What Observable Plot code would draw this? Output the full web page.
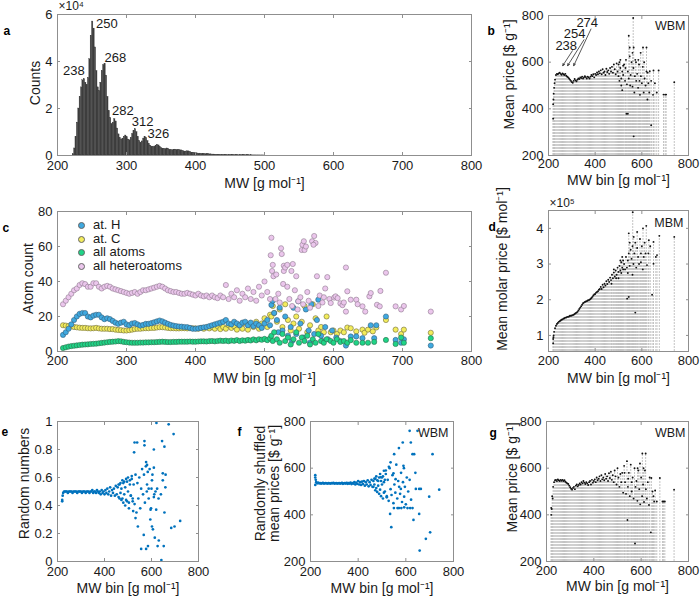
<!DOCTYPE html>
<html><head><meta charset="utf-8">
<script src="https://cdn.jsdelivr.net/npm/d3@7"></script>
<script src="https://cdn.jsdelivr.net/npm/@observablehq/plot@0.6"></script>
<style>
body{margin:0;background:#fff;}
#root{position:relative;width:700px;height:598px;overflow:hidden;font-family:"Liberation Sans",Arial,Helvetica,sans-serif;}
.pan{position:absolute;}
.pan svg{overflow:visible;background:none;}
.leg{position:absolute;font-size:13px;color:#1a1a1a;line-height:13.7px;}
.leg div{position:relative;height:13.7px;white-space:nowrap;padding-left:19px;}
.leg span{position:absolute;left:4px;top:4px;width:5px;height:5px;border-radius:50%;border:0.6px solid #666;}
</style></head><body><div id="root"></div>
<script>
// ---------- DATA ----------
// a: histogram of MW (bin width 2), counts in units of 1e4
const histMW = [222,224,226,228,230,232,234,236,238,240,242,244,246,248,250,252,254,256,258,260,262,264,266,268,270,272,274,276,278,280,282,284,286,288,290,292,294,296,298,300,302,304,306,308,310,312,314,316,318,320,322,324,326,328,330,332,334,336,338,340,342,344,346,348,350,352,354,356,358,360,362,364,366,368,370,372,374,376,378,380,382,384,386,388,390,392,394,396,398,400,402,404,406,408,410,412,414,416,418,420,422,424,426,428,430,432,434,436,438,440,442,444,446,448,450,452,454,456,458,460,462,464,466,468,470,472,474,476,478,480,482,484,486,488,490,492,494,496,498];
const histCount = [0.05,0.3,0.8,1.4,2.0,2.5,2.9,3.2,3.25,3.1,
3.0,3.3,4.1,5.1,5.7,5.4,4.6,3.6,2.9,2.75,
3.1,3.6,3.85,3.9,3.4,2.5,1.9,1.6,1.35,1.4,
1.55,1.45,1.15,0.9,0.75,0.68,0.72,0.8,0.85,0.78,
0.68,0.65,0.75,0.92,1.05,1.12,1.0,0.8,0.62,0.55,
0.6,0.72,0.8,0.75,0.62,0.5,0.42,0.38,0.36,0.38,
0.42,0.45,0.43,0.36,0.31,0.28,0.27,0.28,0.3,0.28,
0.25,0.22,0.22,0.24,0.25,0.24,0.22,0.22,0.22,0.2,
0.18,0.16,0.17,0.18,0.17,0.14,0.12,0.12,0.11,0.1,
0.09,0.08,0.08,0.07,0.07,0.06,0.06,0.05,0.05,0.05,
0.045,0.04,0.04,0.035,0.035,0.03,0.03,0.03,0.028,0.025,
0.025,0.022,0.02,0.02,0.018,0.017,0.016,0.015,0.014,0.013,
0.012,0.011,0.01,0.01,0.009,0.009,0.008,0.008,0.007,0.007,
0.006,0.006,0.005,0.005,0.005,0.004,0.004,0.004,0.003];
const peakMW = [238,250,268,282,312,326];
const peakCount = [3.25,5.7,3.9,1.55,1.12,0.8];

// dense MW bins shared by b, d, e, f, g
const binsW = [220,224,228,232,236,240,244,248,252,256,260,264,268,272,276,280,284,288,292,296,300,304,308,312,316,320,324,328,332,336,340,344,348,352,356,360,364,368,372,376,380,384,388,392,396,400,404,408,412,416,420,424,428,432,436,440,444,448,452,456,460,464,468,472,476,480,484,488,492,496,500,504,508,512,516,520];

// b: WBM mean price
const bDense = [420,490,525,545,550,548,552,555,550,546,
552,548,545,550,542,538,535,530,525,520,
515,512,520,528,522,518,525,530,528,535,
532,538,530,535,540,536,530,538,535,530,
538,545,540,548,535,550,545,556,548,560,
552,565,548,570,555,560,545,572,558,565,
550,575,560,580,555,590,570,548,595,560,
540,600,575,530,560,585];
const bScatter = [[220,358],[221,440],[222,465],[226,510],[512,500],[516,480],[524,590],[528,520],[532,610],[536,505],[540,560],[544,530],[548,625],[552,545],[556,600],[560,495],[564,575],[568,470],[572,610],[576,520],[580,550],[584,490],[588,590],[592,460],[596,540],[600,510],[604,580],[608,470],[612,530],[616,500],[620,560],[624,440],[628,510],[632,470],[640,520],[648,460],[656,510],[664,470],[672,564],[650,564],[634,561],[544,713],[563,789],[548,663],[565,663],[605,663],[620,663],[565,282],[640,330],[534,379],[540,379],[739,514],[693,461],[700,461],[704,461],[585,610],[595,640],[560,640],[575,600],[500,590],[504,520],[508,610],[520,545],[530,575],[550,500],[570,540],[590,520],[610,600],[625,555]];
const bArrowLabels = ["238","254","274"];
const bArrowFrom = [[302.7,649],[352,696],[382,742]];
const bArrowTo = [[261,585],[282,585],[308,585]];
const bArrowLabelAt = [[276,672],[312,722],[366,769]];

// c: atom counts
const binsC = [208,212,216,220,224,228,232,236,240,244,248,252,256,260,264,268,272,276,280,284,288,292,296,300,304,308,312,316,320,324,328,332,336,340,344,348,352,356,360,364,368,372,376,380,384,388,392,396,400,404,408,412,416,420,424,428,432,436,440,444,448,452,456,460,464,468,472,476,480,484,488,492,496,500,504,508];
const seriesNames = ["at. H","at. C","all atoms","all heteroatoms"];
const seriesFill = ["#3fa9e0","#f3ec5c","#1fd487","#ebc6ec"];
const hDense = [9.5,11,13,15.5,18,20,21.5,22,22,20,
19.5,20.5,21,21,19.5,18.5,19,18.5,17.5,16.5,
15.8,16.5,17,15.5,15,16,16.3,15.5,14.8,15.2,
15.8,15.8,16.2,16.7,17.2,17.7,17.2,16.5,15.8,15.2,
14.8,14.5,14.3,14.2,14,13.9,13.5,13,13,13.2,
13.5,13.8,14,14.5,15,15.5,16,16.5,17,18,
16,15.5,17,16,15,16.5,17,15,16.5,14.5,
16,15,13.5,16,18,15];
const cDense = [15,14.8,14.5,14.3,14,13.8,13.6,13.5,13.5,13.3,
13.2,13.3,13.5,13.2,13,13,13,12.8,12.8,12.5,
12.3,12.2,12,12,12.2,12.5,12.8,13,13,13.2,
13.3,13.3,13.5,13.5,13.7,13.9,13.9,13.7,13.5,13.3,
13.3,13.2,13.2,13.3,13.3,13.2,13.3,13.3,13.2,13,
13.5,13,13.8,13.2,14,13,14.5,12.8,14,13,
15,13.5,14.5,12.5,15,13,16,12.5,15.5,14,
17,13,16,19,14,21];
const allDense = [2,2.4,2.8,3.1,3.3,3.5,3.7,3.9,4,4.1,
4.3,4.4,4.5,4.7,4.9,5.1,5.3,5.5,5.6,5.7,
5.9,5.8,5.5,5.3,5.1,5,5,5,5.1,5.1,
5.2,5.2,5.3,5.3,5.4,5.5,5.6,5.5,5.4,5.4,
5.5,5.5,5.6,5.6,5.6,5.6,5.7,5.6,5.6,5.7,
5.8,5.8,5.7,5.9,6,5.8,6,6.2,6,6.2,
5.9,6.3,6.1,6.5,6,6.4,6.2,6.6,6.3,6.9,
6.4,7,6.7,7.2,6.5,7.5];
const heteroDense = [27,29,31,33,35,36,38,39,38.5,37,
37,39,39,37,36,37,37.5,37,36,35.5,
35,34.5,34,33.5,33,33.5,34,33,34,35,
35,35.5,36,36.5,37,37.5,37,36,35,34.5,
34,34,33.5,33,33,33.5,33,32.5,32,33,
32,31.5,32,31,32,31,30.5,32,31,38,
30,33,31,35,29,33,31,36,30,34,
29,37,32,40,34,30];
const hScatter = [[510,26.6],[512,29],[514,22],[518,18],[522,25],[526,12],[530,20],[534,9],[538,14],[542,25],[546,10],[549,28.7],[552,16],[556,8],[560,24],[564,12],[568,27],[572,10],[576,18],[578,29.6],[582,9],[588,14],[592,7],[598,12],[604,8],[610,6],[618,3.4],[625,8.6],[633,8.6],[642,7.6],[654,15],[659,7.6],[662,15],[676,20],[690,6.6],[698,5],[702,7],[741,3.4],[520,11],[540,6],[566,5],[584,6]];
const cScatter = [[510,20],[512,26],[514,22],[518,17],[522,24],[526,14],[530,27],[534,18],[538,12],[542,16],[546,20],[550,13],[554,17],[558,26],[562,11],[566,15],[570,27],[574,19],[578,12],[582,14],[586,11],[590,20],[596,11],[600,12],[605,10],[610,12],[615,11],[620,13.7],[625,13.3],[633,11.5],[642,12.5],[645,10.7],[650,12.5],[657,11.5],[662,13.7],[676,18],[690,12.5],[698,10],[702,12.5],[741,10.7]];
const allScatter = [[510,9],[512,6],[514,11],[518,7],[522,5],[526,10],[530,6],[534,8],[538,4],[542,7],[546,11],[550,5],[554,8],[558,6],[562,9],[566,4],[570,7],[574,5],[578,10],[582,6],[586,5],[590,7],[596,6],[600,5],[605,7],[610,5.5],[615,6],[620,5],[625,6.5],[633,5],[642,5],[650,5],[659,5.5],[676,6.6],[690,4.3],[698,8],[702,5],[741,7.6]];
const heteroScatter = [[509,55],[510,65],[512,49.5],[511,46],[513,43],[517,44],[524,59],[525,55.7],[528,49],[528,46],[530,48],[533,49.5],[527,38.6],[533,37],[539,46],[541,50],[546,43],[549,28.7],[554,58],[555,61],[557,63],[558,58],[560,60],[569,63],[572,66],[574,62],[571,61],[576,43],[591,42.5],[520,33],[522,28],[536,30],[540,26],[544,35],[548,24],[552,31],[556,27],[562,34],[566,25],[580,32],[584,28],[588,36],[594,30],[596,27.7],[601,30.8],[603,31.5],[606,30.5],[610,27.5],[613,26.5],[615,28],[618,22.8],[618,48],[620,34.4],[625,29.6],[633,29.6],[635,27],[642,25.8],[646,22.8],[652,31.5],[654,33.4],[663,26.7],[667,25.8],[668,34.6],[676,45],[690,25.8],[698,24],[702,26],[741,22.8],[516,30],[564,29],[578,26],[586,31]];

// d: MBM mean molar price (units of 1e5)
const dDense = [0.9,1.1,1.2,1.27,1.32,1.35,1.38,1.4,1.42,1.44,
1.45,1.47,1.48,1.5,1.5,1.52,1.52,1.53,1.55,1.55,
1.56,1.57,1.58,1.6,1.62,1.64,1.66,1.7,1.74,1.78,
1.82,1.86,1.9,1.92,1.94,1.95,1.96,1.98,1.99,2.0,
2.02,2.05,2.08,2.12,2.15,2.16,2.2,2.22,2.24,2.28,
2.3,2.36,2.3,2.42,2.35,2.45,2.4,2.52,2.44,2.56,
2.5,2.62,2.55,2.7,2.6,2.76,2.65,2.82,2.7,2.9,
2.78,2.95,2.82,3.05,2.9,3.1];
const dScatter = [[220,0.78],[221,0.95],[222,1.0],[524,3.0],[528,2.85],[532,3.2],[536,2.9],[540,3.1],[544,3.3],[548,2.95],[552,3.4],[556,3.15],[560,3.5],[564,3.0],[568,3.3],[572,3.6],[576,2.9],[580,3.45],[584,3.2],[588,3.0],[592,3.7],[596,3.3],[600,3.5],[604,2.85],[608,3.2],[612,3.6],[616,3.3],[560,2.7],[548,3.6],[540,2.75],[580,3.9],[596,3.05],[628,3.3],[636,3.5],[561,4.45],[544,3.86],[565,3.76],[605,4.0],[619,4.07],[675,3.79],[739,3.76],[650,3.62],[630,3.67],[660,3.2],[665,3.25],[644,2.14],[572,1.64],[544,2.08],[537,2.03],[650,3.01],[622,2.97],[500,2.6],[508,3.1],[512,2.75],[516,3.2],[520,2.85],[470,2.45],[480,2.85],[490,2.6]];

// e: random numbers
const eDense = [0.44,0.49,0.5,0.5,0.5,0.5,0.49,0.5,0.5,0.5,
0.5,0.49,0.5,0.5,0.5,0.5,0.49,0.5,0.5,0.5,
0.5,0.49,0.5,0.5,0.5,0.49,0.5,0.5,0.5,0.49,
0.5,0.5,0.51,0.49,0.5,0.5,0.49,0.51,0.5,0.49,
0.5,0.48,0.51,0.49,0.5,0.48,0.51,0.49,0.52,0.48,
0.5,0.53,0.47,0.51,0.49,0.52,0.47,0.54,0.48,0.53,
0.46,0.55,0.49,0.52,0.45,0.56,0.48,0.53,0.44,0.57,
0.5,0.42,0.55,0.47,0.59,0.43];
const eScatter = [[220,0.43],[222,0.47],[621,0.99],[673,0.98],[694,0.91],[645,0.86],[655,0.82],[610,0.80],[528,0.85],[539,0.85],[570,0.86],[570,0.83],[526,0.78],[577,0.71],[581,0.69],[610,0.67],[648,0.63],[648,0.58],[659,0.53],[722,0.29],[698,0.25],[684,0.24],[655,0.35],[652,0.11],[631,0.15],[626,0.11],[585,0.11],[577,0.09],[556,0.09],[642,0.01],[542,0.25],[532,0.31],[522,0.36],[567,0.19],[602,0.25],[606,0.23],[614,0.17],[595,0.30],[598,0.38],[610,0.46],[617,0.50],[624,0.52],[588,0.52],[602,0.58],[581,0.55],[460,0.55],[464,0.45],[468,0.56],[472,0.44],[476,0.58],[480,0.42],[484,0.57],[488,0.4],[492,0.59],[496,0.43],[500,0.6],[504,0.38],[508,0.58],[512,0.47],[516,0.61],[520,0.45],[524,0.55],[528,0.41],[532,0.62],[536,0.35],[540,0.56],[544,0.45],[548,0.6],[552,0.38],[556,0.52],[560,0.66],[564,0.48],[568,0.62],[572,0.42],[576,0.68],[580,0.5],[584,0.64],[588,0.45],[592,0.66],[596,0.37],[600,0.52],[604,0.62],[612,0.48],[620,0.37],[630,0.45],[640,0.48],[660,0.62]];

// f: randomly shuffled mean prices
const fDense = [560,540,535,538,535,536,534,535,537,534,
535,536,535,534,536,535,534,536,535,537,
534,535,536,534,535,536,534,535,537,533,
535,536,534,537,533,536,534,538,532,536,
534,540,530,538,533,545,530,540,528,542,
532,545,525,540,530,548,522,540,528,550,
520,545,530,555,515,548,525,560,508,545,
530,565,495,550,575,480];
const fScatter = [[220,570],[220,528],[222,550],[616,760],[649,760],[587,710],[621,710],[551,660],[628,660],[635,660],[712,660],[571,686],[534,404],[539,347],[548,578],[557,553],[579,511],[593,478],[642,511],[656,511],[663,511],[740,508],[698,478],[684,297],[702,325],[658,247],[656,404],[632,378],[593,432],[581,429],[607,429],[618,429],[628,429],[550,429],[565,429],[571,429],[590,610],[536,625],[529,606],[508,589],[494,561],[464,520],[468,555],[472,505],[476,565],[480,498],[484,545],[488,490],[492,575],[496,480],[500,560],[504,470],[508,540],[512,500],[516,590],[520,475],[524,550],[528,460],[532,600],[536,510],[540,485],[544,570],[548,450],[552,530],[556,495],[560,615],[564,470],[568,545],[572,520],[576,490],[580,580],[584,455],[588,540],[592,600],[596,520],[600,445],[604,560],[610,500],[616,550],[622,465],[640,580]];

// g: WBM mean price (second variant)
const gDense = [430,480,520,540,548,550,545,552,548,545,
550,546,550,545,548,542,538,535,532,525,
518,512,508,515,520,510,525,530,522,528,
535,530,540,535,545,538,532,540,535,528,
540,545,530,550,538,545,552,540,560,548,
555,565,545,570,552,560,548,575,555,565,
545,578,558,585,550,570,540,590,565,530,
600,560,520,575,540,580];
const gScatter = [[220,400],[222,425],[226,470],[524,495],[528,610],[532,540],[536,490],[540,630],[542,378],[544,520],[548,580],[552,480],[556,615],[560,500],[564,560],[568,470],[572,600],[574,277],[576,520],[580,545],[584,460],[588,590],[592,510],[596,445],[600,560],[604,480],[605,663],[608,530],[612,455],[616,590],[619,663],[620,510],[624,470],[628,540],[633,442],[636,560],[641,325],[643,558],[648,500],[652,480],[655,457],[659,504],[666,457],[679,558],[690,457],[695,457],[700,457],[739,508],[530,580],[545,555],[560,540],[585,600],[595,620],[610,600]];

// tick values
const ticksMW100 = [200,300,400,500,600,700,800];
const ticksMW200 = [200,400,600,800];
const ticksCounts = [0,2,4,6];
const ticksPrice = [200,400,600,800];
const ticksAtoms = [0,20,40,60,80];
const ticksMolar = [1,2,3,4];
const ticksRandom = [0,0.2,0.4,0.6,0.8,1];

// ---------- DRAWING ----------
const root = document.getElementById("root");
const INK = "#1a1a1a", FRAME = "#8f8f8f";
const M = 70;
const fmt = d => String(d);
const table = (xs, ys) => xs.map((x, i) => ({x, y: ys[i]}));
const fromPairs = p => p.map(([x, y]) => ({x, y}));
const SVG_STYLE = "background:none;overflow:visible;font-family:'Liberation Sans',Arial,Helvetica,sans-serif;font-size:13px;color:#1a1a1a;";

function panel(box, xs, ys, marks, lab) {
  const [L, R, T, B] = box;
  const W = R - L + 2 * M, H = B - T + 2 * M;
  const svg = Plot.plot({
    width: W, height: H,
    marginLeft: M, marginRight: M, marginTop: M, marginBottom: M,
    x: {domain: xs.domain}, y: {domain: ys.domain},
    style: SVG_STYLE,
    marks: [
      ...marks,
      Plot.frame({stroke: FRAME}),
      Plot.axisX({ticks: xs.ticks, anchor: "bottom", tickSize: -3, tickPadding: lab.xpad, tickFormat: fmt, stroke: FRAME, fill: INK, fontSize: 13, label: null}),
      Plot.axisX({ticks: xs.ticks, anchor: "top", tickSize: -3, tickFormat: () => "", stroke: FRAME, label: null}),
      Plot.axisY({ticks: ys.ticks, anchor: "left", tickSize: -3, tickPadding: 8, tickFormat: fmt, stroke: FRAME, fill: INK, fontSize: 13, label: null}),
      Plot.axisY({ticks: ys.ticks, anchor: "right", tickSize: -3, tickFormat: () => "", stroke: FRAME, label: null}),
      Plot.text([lab.x], {frameAnchor: "bottom", dy: lab.xdy, textAnchor: "middle", lineAnchor: "middle", text: d => d, fill: INK, fontSize: 14}),
      Plot.text([lab.y], {frameAnchor: "left", dx: lab.ydx, dy: lab.ydy, rotate: -90, textAnchor: "middle", lineAnchor: "middle", text: d => d, fill: INK, fontSize: 14, lineHeight: 1.0}),
      Plot.text([lab.letter], {frameAnchor: "top-left", textAnchor: "start", lineAnchor: "middle", dx: lab.ldx, dy: lab.ldy, text: d => d, fill: "#000", fontSize: 12, fontWeight: "bold"}),
      ...(lab.tag ? [Plot.text([lab.tag], {frameAnchor: "top-right", textAnchor: "end", lineAnchor: "middle", dx: lab.tdx, dy: lab.tdy, text: d => d, fill: INK, fontSize: 12.5})] : []),
      ...(lab.exp ? [Plot.text([lab.exp], {frameAnchor: "top-left", textAnchor: "start", lineAnchor: "middle", dx: 1, dy: lab.edy, text: d => d, fill: INK, fontSize: 12})] : [])
    ]
  });
  const d = document.createElement("div");
  d.className = "pan";
  d.style.left = (L - M) + "px";
  d.style.top = (T - M) + "px";
  d.style.width = W + "px";
  d.appendChild(svg);
  root.appendChild(d);
}

const stem = (data, base) => Plot.ruleX(data, {x: "x", y1: base, y2: "y", stroke: "#c3c3c3", strokeWidth: 1, strokeDasharray: "2,1"});
const blackDots = data => Plot.dot(data, {x: "x", y: "y", r: 0.95, fill: "#111", stroke: "none"});
const blueDots = data => Plot.dot(data, {x: "x", y: "y", r: 1.35, fill: "#0072bd", stroke: "none"});

// panel a
const hist = table(histMW, histCount);
const peaks = table(peakMW, peakCount);
const peakStyle = [["end", 1, -8], ["start", 4, 2], ["start", 0, -6], ["start", -2, -8], ["start", -3, -7], ["start", 3, -3]];
panel([57, 471, 14, 155], {domain: [200, 800], ticks: ticksMW100}, {domain: [0, 6], ticks: ticksCounts}, [
  Plot.rectY(hist, {x: "x", y: "y", interval: 2, inset: 0, fill: "#3d3d3d", stroke: "#3d3d3d", strokeWidth: 0.3}),
  ...peaks.map((p, i) => Plot.text([p], {x: "x", y: "y", text: d => String(d.x), textAnchor: peakStyle[i][0], lineAnchor: "middle", dx: peakStyle[i][1], dy: peakStyle[i][2], fill: INK, fontSize: 13}))
], {x: "MW [g mol⁻¹]", xdy: 28, xpad: 8, y: "Counts", ydx: -22, ydy: -2, letter: "a", ldx: -54, ldy: 17, exp: "×10⁴", edy: -8});

// panel b
const bData = table(binsW, bDense).concat(fromPairs(bScatter));
const bArr = bArrowLabels.map((t, i) => ({t, x1: bArrowFrom[i][0], y1: bArrowFrom[i][1], x2: bArrowTo[i][0], y2: bArrowTo[i][1], lx: bArrowLabelAt[i][0], ly: bArrowLabelAt[i][1]}));
panel([548, 688, 15, 155], {domain: [200, 800], ticks: ticksMW200}, {domain: [200, 800], ticks: ticksPrice}, [
  stem(bData, 200), blackDots(bData),
  Plot.arrow(bArr, {x1: "x1", y1: "y1", x2: "x2", y2: "y2", stroke: "#111", strokeWidth: 0.7, headLength: 5, headAngle: 50}),
  Plot.text(bArr, {x: "lx", y: "ly", text: "t", fill: INK, fontSize: 13})
], {x: "MW bin [g mol⁻¹]", xdy: 25, xpad: 6, y: "Mean price [$ g⁻¹]", ydx: -39, ydy: -11, letter: "b", ldx: -61, ldy: 16, tag: "WBM", tdx: -3, tdy: 10});

// panel c
const cSeries = [
  {i: 1, data: table(binsC, cDense).concat(fromPairs(cScatter)), stroke: "#6d6a3a"},
  {i: 0, data: table(binsC, hDense).concat(fromPairs(hScatter)), stroke: "#35607a"},
  {i: 2, data: table(binsC, allDense).concat(fromPairs(allScatter)), stroke: "#2f6b4c"},
  {i: 3, data: table(binsC, heteroDense).concat(fromPairs(heteroScatter)), stroke: "#8e7a8f"}
];
panel([57, 471, 211, 351], {domain: [200, 800], ticks: ticksMW100}, {domain: [0, 80], ticks: ticksAtoms},
  cSeries.map(s => Plot.dot(s.data, {x: "x", y: "y", r: 2.6, fill: seriesFill[s.i], stroke: s.stroke, strokeWidth: 0.6})),
  {x: "MW bin [g mol⁻¹]", xdy: 27, xpad: 7, y: "Atom count", ydx: -29, ydy: -3, letter: "c", ldx: -55, ldy: 17});

// legend for c
const leg = document.createElement("div");
leg.className = "leg";
leg.style.left = "74px"; leg.style.top = "218px";
seriesNames.forEach((n, i) => {
  const row = document.createElement("div");
  const sw = document.createElement("span");
  sw.style.background = seriesFill[i];
  row.appendChild(sw);
  row.appendChild(document.createTextNode(n));
  leg.appendChild(row);
});
root.appendChild(leg);

// panel d
const dData = table(binsW, dDense).concat(fromPairs(dScatter));
panel([548, 688, 210, 351], {domain: [200, 800], ticks: ticksMW200}, {domain: [0.55, 4.5], ticks: ticksMolar}, [
  stem(dData, 0.55), blackDots(dData)
], {x: "MW bin [g mol⁻¹]", xdy: 27, xpad: 7, y: "Mean molar price [$ mol⁻¹]", ydx: -46, ydy: -12, letter: "d", ldx: -60, ldy: 17, tag: "MBM", tdx: -5, tdy: 12, exp: "×10⁵", edy: -7});

// panel e
const eData = table(binsW, eDense).concat(fromPairs(eScatter));
panel([57, 198, 421, 561], {domain: [200, 800], ticks: ticksMW200}, {domain: [0, 1], ticks: ticksRandom}, [
  blueDots(eData)
], {x: "MW bin [g mol⁻¹]", xdy: 27, xpad: 8, y: "Random numbers", ydx: -33, ydy: -8, letter: "e", ldx: -56, ldy: 11});

// panel f
const fData = table(binsW, fDense).concat(fromPairs(fScatter));
panel([310, 453, 421, 561], {domain: [200, 800], ticks: ticksMW200}, {domain: [200, 800], ticks: ticksPrice}, [
  blueDots(fData)
], {x: "MW bin [g mol⁻¹]", xdy: 27, xpad: 8, y: "Randomly shuffled\nmean prices [$ g⁻¹]", ydx: -43, ydy: -8, letter: "f", ldx: -73, ldy: 11, tag: "WBM", tdx: -5, tdy: 11});

// panel g
const gData = table(binsW, gDense).concat(fromPairs(gScatter));
panel([546, 688, 421, 561], {domain: [200, 800], ticks: ticksMW200}, {domain: [200, 800], ticks: ticksPrice}, [
  stem(gData, 200), blackDots(gData)
], {x: "MW bin [g mol⁻¹]", xdy: 25, xpad: 7, y: "Mean price [$ g⁻¹]", ydx: -34, ydy: -14, letter: "g", ldx: -57, ldy: 12, tag: "WBM", tdx: -3, tdy: 11});
</script></body></html>
